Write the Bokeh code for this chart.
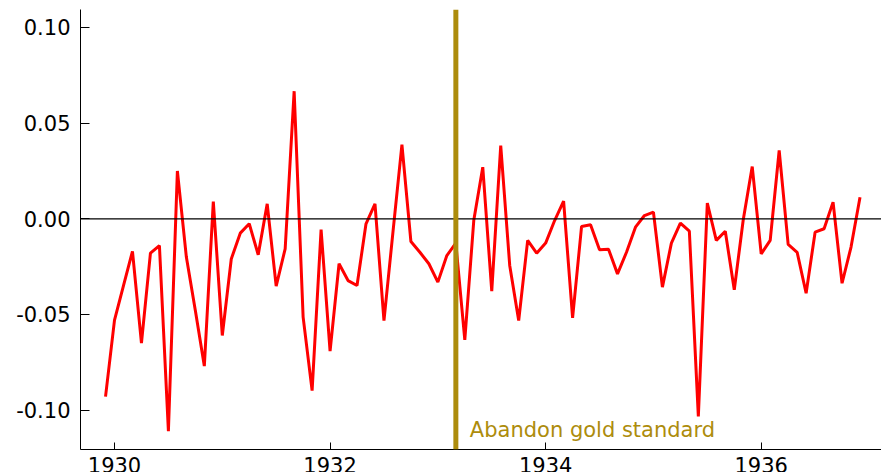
import pandas as pd
from bokeh.plotting import figure
from bokeh.models import Span, Label, FixedTicker, NumeralTickFormatter, Range1d
from bokeh.embed import file_html
from bokeh.resources import INLINE

# Monthly observations, Dec 1929 - Dec 1936
start_month = "1929-12-01"
values = [
    -0.093, -0.053, -0.035, -0.017, -0.065, -0.018, -0.014, -0.111, 0.025, -0.020,
    -0.048, -0.077, 0.009, -0.061, -0.021, -0.0075, -0.0026, -0.0188, 0.0078, -0.0352,
    -0.0157, 0.0667, -0.0514, -0.0898, -0.0056, -0.0692, -0.0235, -0.0323, -0.0349, -0.0026,
    0.0078, -0.0532, -0.007, 0.0388, -0.0119, -0.0175, -0.0235, -0.0331, -0.0192, -0.0127,
    -0.0633, -0.0008, 0.027, -0.0378, 0.0383, -0.0244, -0.0532, -0.0113, -0.018, -0.0127,
    -0.0009, 0.0092, -0.0518, -0.004, -0.0031, -0.0162, -0.0159, -0.0288, -0.0175, -0.0044,
    0.0017, 0.0035, -0.0357, -0.0127, -0.0023, -0.0065, -0.1033, 0.0082, -0.0113, -0.0065,
    -0.0371, -0.0005, 0.0273, -0.0183, -0.0113, 0.0357, -0.0134, -0.0175, -0.0389, -0.007,
    -0.0052, 0.0087, -0.0337, -0.0148, 0.0113,
]
gold_exit = 1933.167
gold_label = "Abandon gold standard"
x_ticks = [1930, 1932, 1934, 1936]
y_ticks = [-0.10, -0.05, 0.0, 0.05, 0.10]

months = pd.date_range(start_month, periods=len(values), freq="MS")
years = [d.year + (d.month - 1) / 12 for d in months]

GOLD = "#ad8c0c"
FONT = "DejaVu Sans"

p = figure(
    frame_width=801, frame_height=440,
    min_border_left=80, min_border_top=9, min_border_right=0, min_border_bottom=0,
    x_range=Range1d(1929.6845, 1937.116), y_range=Range1d(-0.1206, 0.1094),
    output_backend="svg", toolbar_location=None,
)
p.outline_line_color = None
p.xgrid.visible = False
p.ygrid.visible = False

for ax in (p.xaxis[0], p.yaxis[0]):
    ax.axis_line_color = "black"
    ax.axis_line_width = 1
    ax.major_tick_line_color = "black"
    ax.major_tick_out = 0
    ax.minor_tick_line_color = None
    ax.major_label_text_font = FONT
    ax.major_label_text_font_size = "21px"
    ax.major_label_text_color = "black"

p.xaxis.ticker = FixedTicker(ticks=x_ticks)
p.xaxis.major_tick_in = 7
p.xaxis.major_label_standoff = 7
p.yaxis.ticker = FixedTicker(ticks=y_ticks)
p.yaxis.formatter = NumeralTickFormatter(format="0.00")
p.yaxis.major_tick_in = 9
p.yaxis.major_label_standoff = 10

p.add_layout(Span(location=0, dimension="width", line_color="black", line_width=1.2))
p.add_layout(Span(location=gold_exit, dimension="height", line_color=GOLD, line_width=5))

p.line(years, values, line_color="#ff0000", line_width=3)

p.add_layout(Label(
    x=gold_exit, y=-0.1143, x_offset=14.0, y_offset=7, text=gold_label,
    text_font=FONT, text_font_size="21px", text_color=GOLD,
    text_baseline="alphabetic", text_align="left",
))

open("out.html", "w").write(file_html(p, INLINE))
